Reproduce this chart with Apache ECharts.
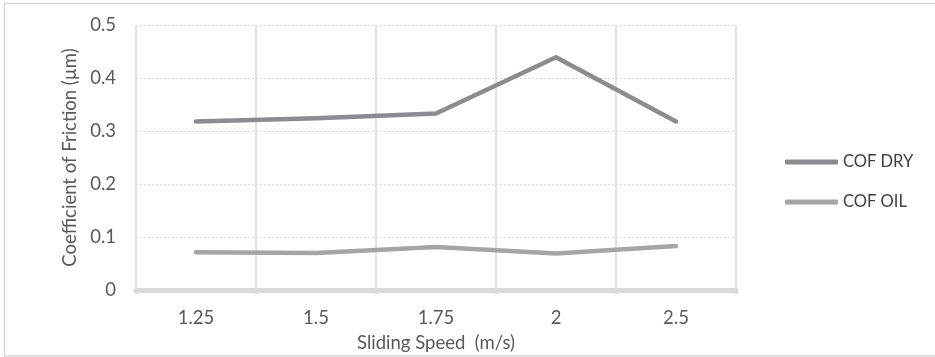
<!DOCTYPE html>
<html>
<head>
<meta charset="utf-8">
<script src="https://cdn.jsdelivr.net/npm/echarts@6/dist/echarts.min.js"></script>
<style>
html,body{margin:0;padding:0;background:#fff;}
#chart{width:935px;height:357px;}
</style>
</head>
<body>
<div id="chart"></div>
<script>
var categories = ['1.25', '1.5', '1.75', '2', '2.5'];
var cofDry = [0.318, 0.324, 0.333, 0.439, 0.318];
var cofOil = [0.071, 0.070, 0.081, 0.069, 0.083];
var seriesNames = ['COF DRY', 'COF OIL'];
var xAxisTitle = 'Sliding Speed  (m/s)';
var yAxisTitle = 'Coefficient of Friction (µm)';

var FONT = 'Lato, "Open Sans", sans-serif';
var chart = echarts.init(document.getElementById('chart'), null, {renderer: 'canvas'});
chart.setOption({
  animation: false,
  backgroundColor: '#fff',
  textStyle: {fontFamily: FONT},
  graphic: [{
    type: 'rect', silent: true, z: -1,
    shape: {x: 4.5, y: 3.5, width: 940, height: 352.5},
    style: {fill: null, stroke: '#d9d9d9', lineWidth: 1.5}
  }],
  grid: {left: 136, top: 25, width: 600, height: 265, outerBoundsMode: 'none', containLabel: false},
  legend: {
    orient: 'vertical', left: 785, top: 153, padding: 0,
    itemWidth: 53, itemHeight: 5, itemGap: 22,
    icon: 'roundRect',
    textStyle: {fontFamily: FONT, fontSize: 16.5, color: '#404040', lineHeight: 18},
    data: seriesNames
  },
  xAxis: {
    type: 'category', data: categories, boundaryGap: true,
    name: xAxisTitle, nameLocation: 'middle', nameGap: 44,
    nameTextStyle: {fontFamily: FONT, fontSize: 18.5, color: '#595959'},
    axisLine: {show: true, lineStyle: {color: '#d9d9d9', width: 5}},
    axisTick: {show: true, length: 4, lineStyle: {color: '#d9d9d9', width: 3}},
    axisLabel: {fontFamily: FONT, fontSize: 18.5, color: '#595959', margin: 19},
    splitLine: {show: true, lineStyle: {color: '#d9d9d9', width: 1.5, type: 'solid'}}
  },
  yAxis: {
    type: 'value', min: 0, max: 0.5, interval: 0.1,
    name: yAxisTitle, nameLocation: 'middle', nameGap: 53, nameRotate: 90,
    nameTextStyle: {fontFamily: FONT, fontSize: 18.5, color: '#595959'},
    axisLine: {show: false}, axisTick: {show: false},
    axisLabel: {fontFamily: FONT, fontSize: 18.5, color: '#595959', margin: 20},
    splitLine: {show: true, lineStyle: {color: '#d9d9d9', width: 1, type: [2, 2]}}
  },
  series: [
    {name: seriesNames[0], type: 'line', data: cofDry, showSymbol: false, symbol: 'none',
     color: '#8c8c90', lineStyle: {width: 4.5, color: '#8c8c90', cap: 'round', join: 'round'}},
    {name: seriesNames[1], type: 'line', data: cofOil, showSymbol: false, symbol: 'none',
     color: '#a5a5a5', lineStyle: {width: 4.5, color: '#a5a5a5', cap: 'round', join: 'round'}}
  ]
});
</script>
</body>
</html>
